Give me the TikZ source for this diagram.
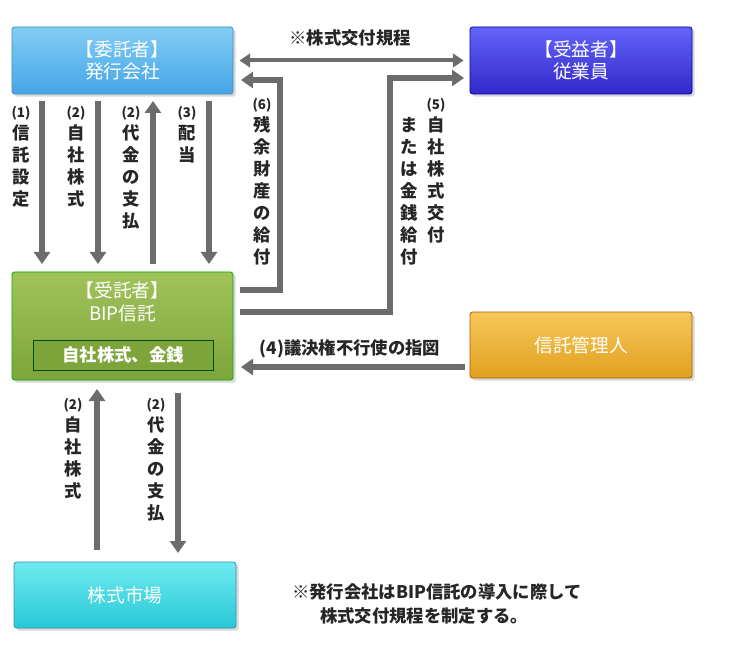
\documentclass[tikz,border=0pt]{standalone}
\usepackage{fontspec}
\setmainfont{Noto Sans CJK JP}
\usetikzlibrary{arrows.meta,shadows,calc}
\newcommand{\vnum}[1]{{\fontsize{10}{10}\selectfont(#1)}}
\begin{document}
\begin{tikzpicture}[x=0.75pt,y=-0.75pt,
  box/.style={draw=#1!70!black,line width=0.6pt,rounded corners=2pt,drop shadow={opacity=0.3,shadow xshift=2pt,shadow yshift=-2pt},text=white,align=center,font=\fontsize{14}{17}\selectfont,inner sep=0pt},
  arr/.style={draw=gray!85!black,line width=4.5pt,-{Triangle[length=9pt,width=12pt]}},
  darr/.style={draw=gray!85!black,line width=3pt,{Triangle[length=8pt,width=10pt]}-{Triangle[length=8pt,width=10pt]}},
  vlab/.style={align=center,font=\fontsize{13}{16.5}\selectfont\bfseries,text=black!85,inner sep=0pt,anchor=north},
  hlab/.style={font=\fontsize{13}{15}\selectfont\bfseries,text=black!85,inner sep=0pt}]
\useasboundingbox (0,0) rectangle (745,648);
\fill[white] (0,0) rectangle (745,648);
% boxes
\node[box=cyan,top color={rgb,255:red,130;green,205;blue,245},bottom color={rgb,255:red,70;green,165;blue,230},minimum width=221*0.75pt,minimum height=67*0.75pt] (itaku) at (122.5,60.5) {【委託者】\\発行会社};
\node[box=blue,top color={rgb,255:red,100;green,100;blue,250},bottom color={rgb,255:red,50;green,40;blue,200},minimum width=222*0.75pt,minimum height=67*0.75pt] (juueki) at (581,60.5) {【受益者】\\従業員};
\node[box=green,top color={rgb,255:red,160;green,195;blue,90},bottom color={rgb,255:red,125;green,165;blue,60},minimum width=221*0.75pt,minimum height=108*0.75pt] (jutaku) at (122.5,326) {};
\node[text=white,font=\fontsize{14}{17}\selectfont,align=center] (jt) at (122.5,302) {【受託者】\\BIP信託};
\node[draw=green!30!black,fill={rgb,255:red,125;green,165;blue,60},text=white,minimum width=180*0.75pt,minimum height=30*0.75pt,inner sep=0pt,font=\fontsize{13}{15}\selectfont\bfseries] (asset) at (123,355) {自社株式、金銭};
\node[box=orange,top color={rgb,255:red,245;green,200;blue,90},bottom color={rgb,255:red,225;green,160;blue,30},minimum width=222*0.75pt,minimum height=66*0.75pt] (kanri) at (581,345) {信託管理人};
\node[box=cyan,top color={rgb,255:red,110;green,235;blue,240},bottom color={rgb,255:red,40;green,200;blue,215},minimum width=222*0.75pt,minimum height=66*0.75pt] (market) at (125,595) {株式市場};
% coordinates
\coordinate (a1s) at (42,101); \coordinate (a1e) at (42,264);
\coordinate (a2s) at (98,101); \coordinate (a2e) at (98,264);
\coordinate (a3s) at (153,264); \coordinate (a3e) at (153,101);
\coordinate (a4s) at (209,101); \coordinate (a4e) at (209,264);
\draw[arr] (a1s) -- (a1e);
\draw[arr] (a2s) -- (a2e);
\draw[arr] (a3s) -- (a3e);
\draw[arr] (a4s) -- (a4e);
\node[vlab] (l1) at (21,106) {\vnum{1}\\信\\託\\設\\定};
\node[vlab] (l2) at (76,106) {\vnum{2}\\自\\社\\株\\式};
\node[vlab] (l3) at (131,106) {\vnum{2}\\代\\金\\の\\支\\払};
\node[vlab] (l4) at (187,106) {\vnum{3}\\配\\当};
% top double arrow
\draw[darr] ($(itaku.east)+(6,0)$) -- ($(juueki.west)+(-6,0)$);
\node[hlab] (kitei) at (350,38) {※株式交付規程};
% (6)
\coordinate (s6a) at (240,290); \coordinate (s6b) at (280,290); \coordinate (s6c) at (280,80); \coordinate (s6d) at (241,80);
\draw[arr] (s6a) -- (s6b) -- (s6c) -- (s6d);
\node[vlab] (l6) at (262,98) {\vnum{6}\\残\\余\\財\\産\\の\\給\\付};
% (5)
\coordinate (s5a) at (240,312); \coordinate (s5b) at (390,312); \coordinate (s5c) at (390,78); \coordinate (s5d) at (464,78);
\draw[arr] (s5a) -- (s5b) -- (s5c) -- (s5d);
\node[vlab] (l5a) at (436,98) {\vnum{5}\\自\\社\\株\\式\\交\\付};
\node[vlab] (l5b) at (409,117) {ま\\た\\は\\金\\銭\\給\\付};
% (4)
\coordinate (s4a) at (465,367); \coordinate (s4b) at (241,367);
\draw[arr] (s4a) -- (s4b);
\node[hlab] (l4h) at (350,349) {(4)議決権不行使の指図};
% bottom
\coordinate (b1s) at (97,550); \coordinate (b1e) at (97,389);
\coordinate (b2s) at (178,393); \coordinate (b2e) at (178,553);
\draw[arr] (b1s) -- (b1e);
\draw[arr] (b2s) -- (b2e);
\node[vlab] (lb1) at (73,398) {\vnum{2}\\自\\社\\株\\式};
\node[vlab] (lb2) at (156,398) {\vnum{2}\\代\\金\\の\\支\\払};
% note
\node[hlab,anchor=west] (n1) at (292,592) {※発行会社はBIP信託の導入に際して};
\node[hlab,anchor=west] (n2) at (320,616) {株式交付規程を制定する。};
\end{tikzpicture}
\end{document}
